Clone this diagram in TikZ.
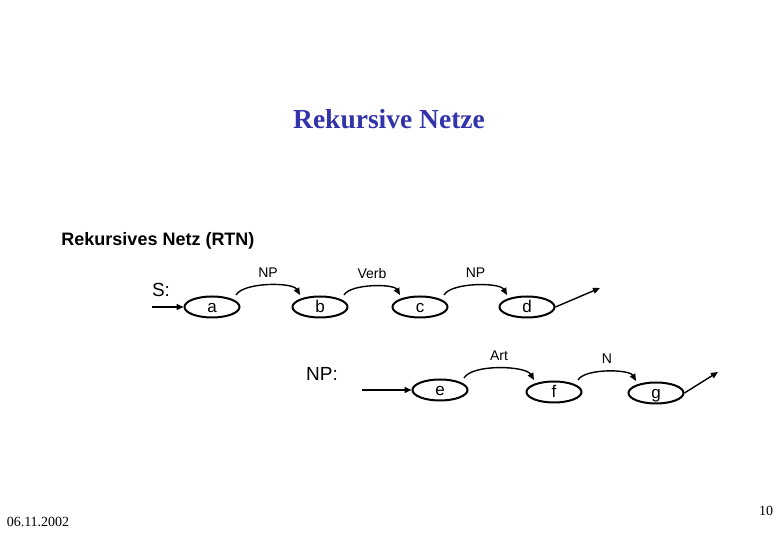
\documentclass[tikz,border=0pt]{standalone}
\usepackage{fontspec}
\setmainfont{Liberation Serif}
\setsansfont{Liberation Sans}
\usetikzlibrary{shapes.geometric,arrows.meta}
\definecolor{titleblue}{RGB}{51,51,170}
\begin{document}
\begin{tikzpicture}[x=1pt,y=1pt,
    state/.style={ellipse,draw,line width=2pt,minimum width=55pt,minimum height=21pt,inner sep=0pt,
        text height=12pt,text depth=0pt,font=\sffamily\fontsize{17}{17}\selectfont},
    trans/.style={line width=1.4pt,-{Triangle[length=7pt,width=6pt]}},
    arclabel/.style={text height=10pt,text depth=0pt,font=\sffamily\fontsize{14}{14}\selectfont},
    netname/.style={font=\sffamily\fontsize{19}{19}\selectfont}]
    \useasboundingbox(0,0)rectangle(780,540);
    \node[font=\bfseries\fontsize{27.5}{27.5}\selectfont,text=titleblue](title)at(389,421){Rekursive Netze};
    \node[font=\sffamily\bfseries\fontsize{18}{18}\selectfont](rtn)at(158,299){Rekursives Netz (RTN)};
    % Netz S
    \node[netname](S)at(161,250){S:};
    \node[state](a)at(212,233){a};
    \node[state](b)at(320,233){b};
    \node[state](c)at(420,233){c};
    \node[state](d)at(527,233){d};
    \coordinate(Sin)at(152,233);
    \coordinate(Sout)at(600,252);
    \draw[trans](Sin)--(a);
    \draw[trans]([shift={(24,12)}]a.center)to[out=60,in=120,looseness=0.6]node[arclabel,above=4pt]{NP}([shift={(-20,12)}]b.center);
    \draw[trans]([shift={(24,12)}]b.center)to[out=60,in=120,looseness=0.6]node[arclabel,above=4pt]{Verb}([shift={(-20,12)}]c.center);
    \draw[trans]([shift={(24,12)}]c.center)to[out=60,in=120,looseness=0.6]node[arclabel,above=4pt]{NP}([shift={(-20,12)}]d.center);
    \draw[trans](d.east)--(Sout);
    % Netz NP
    \node[netname](NP)at(322,166){NP:};
    \node[state](e)at(440,150){e};
    \node[state](f)at(554,148){f};
    \node[state](g)at(656,147){g};
    \coordinate(NPin)at(362,150);
    \coordinate(NPout)at(718,168);
    \draw[trans](NPin)--(e);
    \draw[trans]([shift={(24,12)}]e.center)to[out=60,in=120,looseness=0.6]node[arclabel,above=4pt]{Art}([shift={(-20,12)}]f.center);
    \draw[trans]([shift={(24,12)}]f.center)to[out=60,in=120,looseness=0.6]node[arclabel,above=4pt]{N}([shift={(-20,12)}]g.center);
    \draw[trans](g.east)--(NPout);
    % Fusszeile
    \node[font=\fontsize{14}{14}\selectfont](date)at(38,18){06.11.2002};
    \node[font=\fontsize{14}{14}\selectfont](page)at(766,29){10};
\end{tikzpicture}
\end{document}
